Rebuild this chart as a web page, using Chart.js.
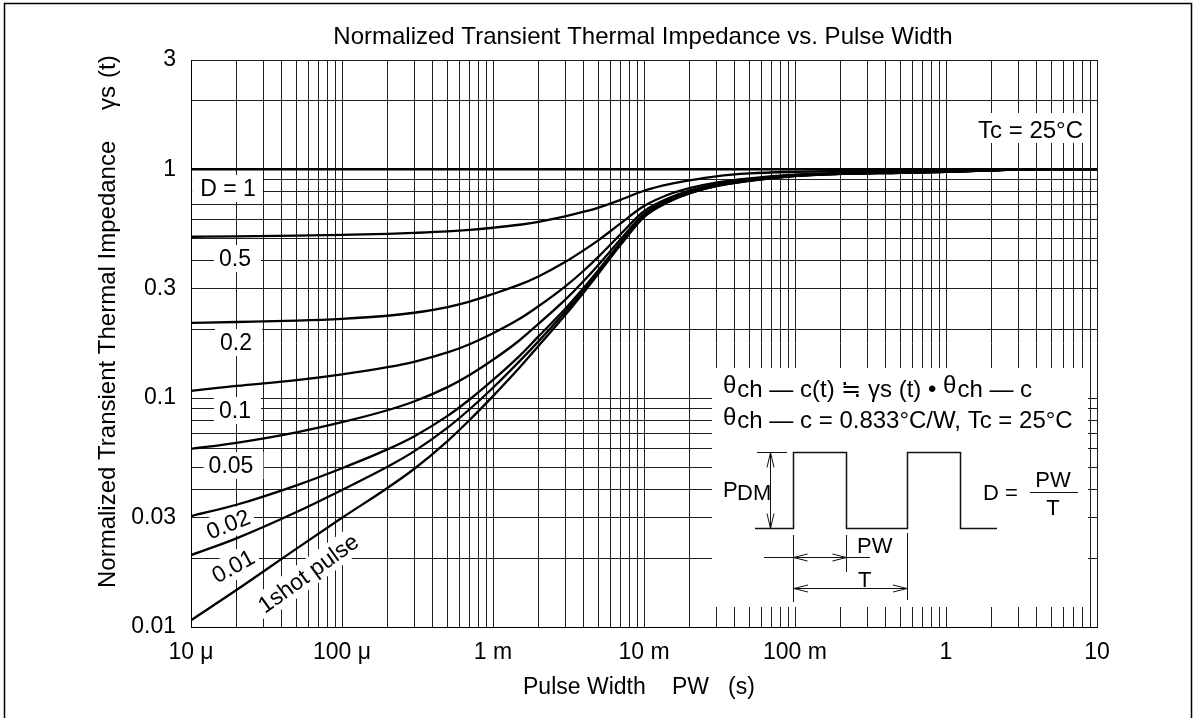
<!DOCTYPE html>
<html lang="en">
<head>
<meta charset="UTF-8">
<title>Normalized Transient Thermal Impedance vs. Pulse Width</title>
<script src="https://cdn.jsdelivr.net/npm/chart.js@4.4.0/dist/chart.umd.min.js"></script>
<style>
  html, body { margin: 0; padding: 0; background: #fff; }
  canvas { display: block; }
</style>
</head>
<body>
<canvas id="zthChart" width="1198" height="718"></canvas>
<script>
// pulse width PW (s) where the curves were read
const pulseWidth = [1e-5, 2e-5, 5e-5, 1e-4, 2e-4, 3e-4, 5e-4, 7e-4, 1e-3, 1.5e-3, 2e-3, 3e-3, 4e-3, 5e-3, 7e-3,
                    1e-2, 1.5e-2, 2e-2, 3e-2, 5e-2, 0.1, 0.2, 0.5, 1, 2, 3, 5, 10];
// normalized transient thermal impedance, one array per duty cycle
const gammaD05  = [0.507, 0.509, 0.513, 0.517, 0.522, 0.527, 0.535, 0.543, 0.555, 0.572, 0.589, 0.622, 0.652, 0.68, 0.735,
                   0.805, 0.862, 0.893, 0.93, 0.958, 0.974, 0.982, 0.987, 0.991, 0.996, 0.999, 1.0, 1.0];
const gammaD02  = [0.213, 0.215, 0.218, 0.222, 0.229, 0.236, 0.25, 0.264, 0.285, 0.313, 0.34, 0.393, 0.443, 0.49, 0.58,
                   0.69, 0.781, 0.827, 0.874, 0.912, 0.947, 0.963, 0.971, 0.979, 0.99, 0.998, 1.0, 1.0];
const gammaD01  = [0.1076, 0.113, 0.1198, 0.127, 0.1365, 0.1441, 0.1584, 0.172, 0.192, 0.222, 0.252, 0.307, 0.361, 0.415, 0.52,
                   0.655, 0.753, 0.806, 0.859, 0.901, 0.941, 0.959, 0.968, 0.977, 0.989, 0.998, 1.0, 1.0];
const gammaD005 = [0.060, 0.0638, 0.0709, 0.0785, 0.0885, 0.0966, 0.1117, 0.1262, 0.147, 0.179, 0.211, 0.2685, 0.3255, 0.3825, 0.494,
                   0.636, 0.74, 0.795, 0.851, 0.8955, 0.937, 0.956, 0.966, 0.975, 0.989, 0.998, 1.0, 1.0];
const gammaD002 = [0.0305, 0.0342, 0.0416, 0.0494, 0.0597, 0.068, 0.0836, 0.0986, 0.12, 0.153, 0.186, 0.245, 0.304, 0.363, 0.478,
                   0.625, 0.731, 0.788, 0.846, 0.892, 0.935, 0.955, 0.965, 0.975, 0.988, 0.998, 1.0, 1.0];
const gammaD001 = [0.0206, 0.0244, 0.0318, 0.0397, 0.0501, 0.0585, 0.0743, 0.0894, 0.111, 0.145, 0.177, 0.238, 0.297, 0.3565, 0.472,
                   0.621, 0.729, 0.786, 0.845, 0.891, 0.935, 0.954, 0.964, 0.974, 0.988, 0.998, 1.0, 1.0];
const gammaShot = [0.0107, 0.0145, 0.022, 0.030, 0.0405, 0.049, 0.0649, 0.0802, 0.102, 0.136, 0.169, 0.23, 0.29, 0.35, 0.467,
                   0.617, 0.726, 0.784, 0.843, 0.89, 0.934, 0.954, 0.964, 0.974, 0.988, 0.998, 1.0, 1.0];
// D = 1 is flat
const dOnePw    = [1e-5, 10];
const gammaD1   = [1, 1];

const curveNames = ['D = 1', '0.5', '0.2', '0.1', '0.05', '0.02', '0.01', '1shot pulse'];

const xDecades    = [1e-5, 1e-4, 1e-3, 1e-2, 1e-1, 1, 10];
const xTickLabels = ['10 μ', '100 μ', '1 m', '10 m', '100 m', '1', '10'];
const yTickValues = [0.01, 0.03, 0.1, 0.3, 1, 3];
const yTickLabels = ['0.01', '0.03', '0.1', '0.3', '1', '3'];

const FONT = "'Liberation Sans', Arial, Helvetica, sans-serif";

function logGrid(min, max) {
    const out = [];
    for (let e = Math.floor(Math.log10(min)); e <= Math.ceil(Math.log10(max)); e++) {
        for (let k = 1; k < 10; k++) {
            const v = +(k * Math.pow(10, e)).toPrecision(6);
            if (v >= min * 0.999 && v <= max * 1.001) out.push(v);
        }
    }
    return out;
}
function labelFor(v, vals, labels) {
    const i = vals.findIndex(u => Math.abs(Math.log10(u) - Math.log10(v)) < 1e-6);
    return i < 0 ? '' : labels[i];
}
function pts(xs, ys) {
    return xs.map((x, i) => ({ x: x, y: ys[i] }));
}

const xGrid = logGrid(1e-5, 10);
const yGrid = logGrid(0.01, 3);

const seriesValues = [gammaD1, gammaD05, gammaD02, gammaD01, gammaD005, gammaD002, gammaD001, gammaShot];
const datasets = seriesValues.map((vals, i) => ({
    label: curveNames[i],
    data: i === 0 ? pts(dOnePw, vals) : pts(pulseWidth, vals),
    borderColor: '#000',
    borderWidth: i === 0 ? 2.6 : 2.3,
    pointRadius: 0,
    fill: false,
    cubicInterpolationMode: 'monotone'
}));

function txt(ctx, s, x, y, size, align) {
    ctx.font = size + 'px ' + FONT;
    ctx.textAlign = align || 'left';
    ctx.textBaseline = 'alphabetic';
    ctx.fillStyle = '#000';
    ctx.fillText(s, x, y);
}
function seg(ctx, list) {
    ctx.beginPath();
    ctx.moveTo(list[0][0], list[0][1]);
    for (let i = 1; i < list.length; i++) ctx.lineTo(list[i][0], list[i][1]);
    ctx.stroke();
}
// open "V" arrow head, tip at (x,y), dx/dy = pointing direction
function head(ctx, x, y, dx, dy, len, half) {
    const bx = x - dx * len, by = y - dy * len;
    seg(ctx, [[bx - dy * half, by - dx * half], [x, y], [bx + dy * half, by + dx * half]]);
}
// label with white box behind it
function curveLabel(ctx, s, cx, cy, angle, padL, padR) {
    ctx.save();
    ctx.translate(cx, cy);
    ctx.rotate(angle * Math.PI / 180);
    ctx.font = '23px ' + FONT;
    const w = ctx.measureText(s).width;
    ctx.fillStyle = '#fff';
    ctx.fillRect(-w / 2 - padL, -13, w + padL + padR, 27);
    ctx.fillStyle = '#000';
    ctx.textAlign = 'center';
    ctx.textBaseline = 'alphabetic';
    ctx.fillText(s, 0, 8);
    ctx.restore();
}

const decorations = {
    id: 'decorations',
    beforeDraw(chart) {
        const ctx = chart.ctx;
        ctx.save();
        ctx.fillStyle = '#fff';
        ctx.fillRect(0, 0, chart.width, chart.height);
        // outer frame (no bottom edge)
        ctx.strokeStyle = '#000';
        ctx.lineWidth = 1.5;
        seg(ctx, [[4.5, 720], [4.5, 3.5], [1191.5, 3.5], [1191.5, 720]]);
        // title
        txt(ctx, 'Normalized Transient Thermal Impedance vs. Pulse Width', 643, 44, 24, 'center');
        // x axis title
        txt(ctx, 'Pulse Width', 523, 694, 23);
        txt(ctx, 'PW', 672, 694, 23);
        txt(ctx, '(s)', 728, 694, 23);
        // y axis title
        ctx.save();
        ctx.translate(115, 0);
        ctx.rotate(-Math.PI / 2);
        txt(ctx, 'Normalized Transient Thermal Impedance', -588, 0, 24);
        txt(ctx, 'γs', -110, 0, 24);
        txt(ctx, '(t)', -78, 0, 24);
        ctx.restore();
        ctx.restore();
    },
    beforeDatasetsDraw(chart) {
        const ctx = chart.ctx;
        ctx.save();
        // curve labels
        curveLabel(ctx, curveNames[0], 228, 188, 0, 8, 7);
        curveLabel(ctx, curveNames[1], 235, 258, 0, 5, 10);
        curveLabel(ctx, curveNames[2], 236, 342, 0, 5, 10);
        curveLabel(ctx, curveNames[3], 235, 410, 0, 5, 10);
        curveLabel(ctx, curveNames[4], 231, 465, 0, 5, 10);
        curveLabel(ctx, curveNames[5], 228, 524, -22, 4, 4);
        curveLabel(ctx, curveNames[6], 233, 566, -29, 4, 4);
        curveLabel(ctx, curveNames[7], 308, 573, -36, 4, 4);

        // Tc label
        ctx.fillStyle = '#fff';
        ctx.fillRect(972, 113, 115, 30);
        txt(ctx, 'Tc = 25°C', 1083, 138, 24, 'right');

        // inset panel
        ctx.fillStyle = '#fff';
        ctx.fillRect(712, 368, 376, 239);
        // formula lines, theta slightly raised
        ctx.font = '24px ' + FONT;
        let x = 723;
        txt(ctx, 'θ', x, 393, 24); x += ctx.measureText('θ').width + 1;
        txt(ctx, 'ch — c(t) ≒ γs (t) • ', x, 397, 24); x += ctx.measureText('ch — c(t) ≒ γs (t) • ').width;
        txt(ctx, 'θ', x, 393, 24); x += ctx.measureText('θ').width + 1;
        txt(ctx, 'ch — c', x, 397, 24);
        x = 723;
        txt(ctx, 'θ', x, 425, 24); x += ctx.measureText('θ').width + 1;
        txt(ctx, 'ch — c = 0.833°C/W, Tc = 25°C', x, 428, 24);

        // pulse train
        ctx.strokeStyle = '#111';
        ctx.lineWidth = 1.5;
        const lo = 528.5, hi = 452.5;
        seg(ctx, [[755, lo], [793.5, lo], [793.5, hi], [846.5, hi], [846.5, lo], [907.5, lo],
                  [907.5, hi], [960.5, hi], [960.5, lo], [997, lo]]);
        ctx.lineWidth = 1;
        seg(ctx, [[757, hi], [787, hi]]);
        // PDM arrow
        seg(ctx, [[770.5, hi], [770.5, lo]]);
        head(ctx, 770.5, hi, 0, -1, 15, 3.5);
        head(ctx, 770.5, lo, 0, 1, 15, 3.5);
        // dimension lines
        seg(ctx, [[793.5, 535], [793.5, 602]]);
        seg(ctx, [[846.5, 535], [846.5, 572]]);
        seg(ctx, [[907.5, 533], [907.5, 600]]);
        // PW arrow
        seg(ctx, [[764, 557.5], [870, 557.5]]);
        head(ctx, 793.5, 557.5, -1, 0, 14, 3.5);
        head(ctx, 846.5, 557.5, 1, 0, 14, 3.5);
        // T arrow
        seg(ctx, [[794, 588.5], [907, 588.5]]);
        head(ctx, 794, 588.5, -1, 0, 14, 3.5);
        head(ctx, 907, 588.5, 1, 0, 14, 3.5);

        // PDM text
        txt(ctx, 'P', 723, 497, 22);
        txt(ctx, 'DM', 737, 500, 22);
        txt(ctx, 'PW', 857, 553, 22);
        txt(ctx, 'T', 858, 587, 22);
        // D = PW / T
        txt(ctx, 'D =', 983, 500, 22);
        txt(ctx, 'PW', 1053, 487, 22, 'center');
        seg(ctx, [[1030, 492.5], [1078, 492.5]]);
        txt(ctx, 'T', 1053, 515, 22, 'center');
        ctx.restore();
    }
};

const ctx = document.getElementById('zthChart').getContext('2d');
new Chart(ctx, {
    type: 'line',
    data: { datasets: datasets },
    options: {
        responsive: false,
        devicePixelRatio: 1,
        animation: false,
        layout: { padding: { top: 60, right: 101, left: 0, bottom: 0 } },
        plugins: {
            legend: { display: false },
            title: { display: false },
            tooltip: { enabled: false }
        },
        scales: {
            x: {
                type: 'logarithmic',
                position: 'bottom',
                min: 1e-5,
                max: 10,
                afterBuildTicks: s => { s.ticks = xGrid.map(v => ({ value: v })); },
                afterFit: s => { s.height = 91; },
                grid: { color: '#1e1e1e', lineWidth: 1, drawTicks: false },
                border: { color: '#000', width: 1 },
                ticks: {
                    autoSkip: false,
                    maxRotation: 0,
                    minRotation: 0,
                    padding: 12,
                    color: '#000',
                    font: { family: FONT, size: 23 },
                    callback: v => labelFor(v, xDecades, xTickLabels)
                }
            },
            y: {
                type: 'logarithmic',
                min: 0.01,
                max: 3,
                afterBuildTicks: s => { s.ticks = yGrid.map(v => ({ value: v })); },
                afterFit: s => { s.width = 191; },
                grid: { color: '#1e1e1e', lineWidth: 1, drawTicks: false },
                border: { color: '#000', width: 1 },
                ticks: {
                    autoSkip: false,
                    padding: 15,
                    color: '#000',
                    font: { family: FONT, size: 23 },
                    callback: v => labelFor(v, yTickValues, yTickLabels)
                }
            }
        }
    },
    plugins: [decorations]
});
</script>
</body>
</html>
